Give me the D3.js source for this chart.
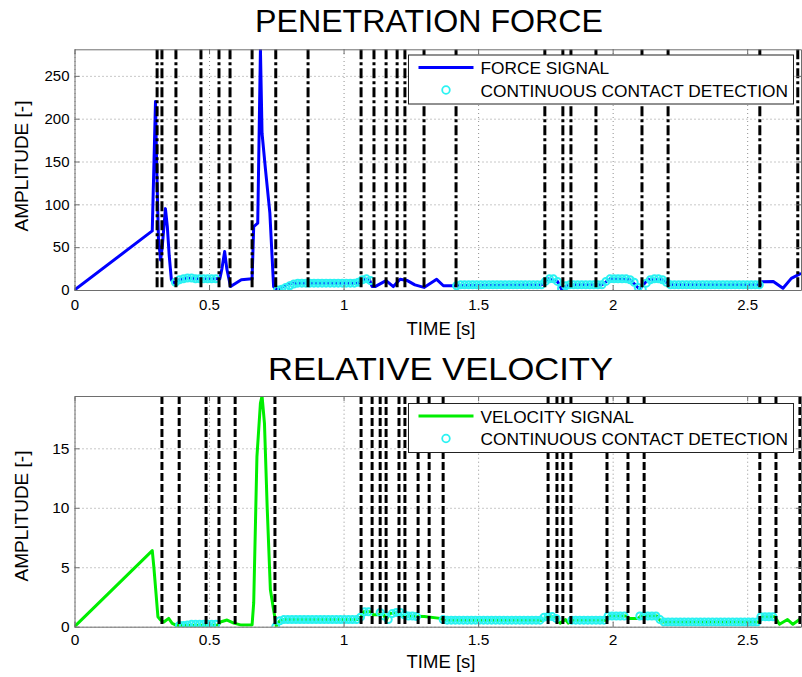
<!DOCTYPE html>
<html>
<head>
<meta charset="utf-8">
<script src="https://cdn.jsdelivr.net/npm/d3@7"></script>
<style>
  body { margin: 0; background: #fff; }
  svg { display: block; font-family: "Liberation Sans", Arial, sans-serif; }
</style>
</head>
<body>
<div id="chart"></div>
<script>
// ---- data ----
const xTicks = [0, 0.5, 1, 1.5, 2, 2.5];
const forceTicks = [0, 50, 100, 150, 200, 250];
const velocityTicks = [0, 5, 10, 15];

// force signal [time, amplitude]
const forceSignal = [
  [0, 0], [0.289, 69], [0.301, 220], [0.305, 150], [0.312, 60], [0.32, 35], [0.326, 50],
  [0.338, 95], [0.345, 74], [0.352, 40], [0.36, 12], [0.368, 8], [0.375, 9], [0.39, 12],
  [0.42, 14], [0.45, 13], [0.54, 13], [0.548, 25], [0.558, 45], [0.566, 25], [0.58, 4],
  [0.62, 12], [0.66, 13], [0.666, 74], [0.681, 78], [0.691, 281], [0.697, 183], [0.71, 140],
  [0.726, 90], [0.74, 4], [0.753, 0], [0.77, 3], [0.8, 8], [1.055, 8], [1.07, 12],
  [1.095, 13], [1.106, 4], [1.117, 4], [1.158, 11], [1.185, 4], [1.21, 12.5], [1.237, 11],
  [1.265, 6], [1.299, 3], [1.346, 12.5], [1.371, 5], [1.42, 5], [1.735, 6], [1.76, 13],
  [1.795, 10], [1.81, 1], [1.84, 6], [1.96, 6], [1.99, 13], [2.065, 12], [2.1, 1],
  [2.13, 12], [2.185, 12], [2.215, 6], [2.55, 6], [2.556, 9.7], [2.597, 10], [2.633, 2],
  [2.664, 13.6], [2.7, 19.5]
];

// velocity signal [time, amplitude]
const velocitySignal = [
  [0, 0], [0.289, 6.4], [0.295, 5], [0.31, 0.84], [0.32, 0.56], [0.332, 0.4], [0.35, 0.7],
  [0.363, 0.28], [0.381, 0.1], [0.535, 0.15], [0.542, 0.4], [0.567, 0.56], [0.592, 0.3],
  [0.617, 0.15], [0.66, 0.15], [0.666, 2], [0.678, 14.3], [0.691, 18.8], [0.697, 19.4],
  [0.706, 17.1], [0.716, 10.1], [0.728, 3.1], [0.74, 1.4], [0.75, 0.05], [0.763, 0.5],
  [0.78, 0.6], [1.06, 0.6], [1.075, 1.25], [1.1, 1.25], [1.11, 1.0], [1.15, 1.0],
  [1.158, 0.5], [1.17, 1.1], [1.2, 1.2], [1.22, 0.9], [1.3, 0.85], [1.36, 0.7],
  [1.375, 0.55], [1.74, 0.55], [1.76, 0.85], [1.79, 0.8], [1.805, 0.3], [1.825, 0.6],
  [1.835, 0.3], [1.848, 0.55], [1.975, 0.55], [1.985, 0.9], [2.05, 0.9], [2.06, 0.7],
  [2.095, 0.7], [2.105, 0.9], [2.165, 0.9], [2.18, 0.4], [2.545, 0.4], [2.555, 0.84],
  [2.603, 0.84], [2.62, 0.2], [2.65, 0.6], [2.67, 0.2], [2.7, 0.7]
];

// continuous contact detection, sampled every contactStep seconds from each start time
const contactStep = 0.015;
const forceContactStarts = [0.375, 0.755, 1.42];
const forceContactValues = [
  [9, 12, 13, 14, 14, 13, 13, 13, 13, 13, 13],
  [0, 1, 3, 5, 7, 8, 8, 8, 8, 8, 8, 8, 8, 8, 8, 8, 8, 8, 8, 8, 9, 12, 13, 11],
  [5, 6, 6, 6, 6, 6, 6, 6, 6, 6, 6, 6, 6, 6, 6, 6, 6, 6, 6, 6, 6, 6,
   10, 13, 13, 10, 2, 5,
   6, 6, 6, 6, 6, 6, 6, 6, 6,
   10, 13, 13, 13, 13, 13, 12, 9, 3, 1,
   8, 12, 13, 13, 12, 9,
   6, 6, 6, 6, 6, 6, 6, 6, 6, 6, 6, 6, 6, 6, 6, 6, 6, 6, 6, 6, 6, 6, 6]
];
const velocityContactStarts = [0.39, 0.748, 1.136, 1.37, 1.848, 2.101];
const velocityContactValues = [
  [0.1, 0.1, 0.15, 0.2, 0.2, 0.2, 0.2, 0.2, 0.2, 0.2],
  [0, 0.5, 0.6, 0.6, 0.6, 0.6, 0.6, 0.6, 0.6, 0.6, 0.6, 0.6, 0.6, 0.6, 0.6, 0.6, 0.6, 0.6,
   0.6, 0.6, 0.6, 0.8, 1.25, 1.25],
  [1.2, 0.9, 0.6, 1.1, 1.2, 1.2, 1.0, 0.9, 0.9, 0.85],
  [0.6, 0.55, 0.55, 0.55, 0.55, 0.55, 0.55, 0.55, 0.55, 0.55, 0.55, 0.55, 0.55, 0.55, 0.55,
   0.55, 0.55, 0.55, 0.55, 0.55, 0.55, 0.55, 0.55, 0.55, 0.55, 0.8, 0.85, 0.85, 0.7],
  [0.55, 0.55, 0.55, 0.55, 0.55, 0.55, 0.55, 0.55, 0.55, 0.9, 0.9, 0.9, 0.9, 0.9],
  [0.9, 0.9, 0.9, 0.9, 0.9, 0.6, 0.4, 0.4, 0.4, 0.4, 0.4, 0.4, 0.4, 0.4, 0.4, 0.4, 0.4, 0.4,
   0.4, 0.4, 0.4, 0.4, 0.4, 0.4, 0.4, 0.4, 0.4, 0.4, 0.4, 0.4, 0.84, 0.84, 0.84, 0.84]
];

// event times (vertical lines)
const forceEvents = [0.307, 0.325, 0.377, 0.470, 0.537, 0.578, 0.660, 0.748, 0.868, 1.065,
  1.113, 1.158, 1.199, 1.228, 1.299, 1.418, 1.748, 1.815, 1.845, 1.938, 2.109, 2.206,
  2.547, 2.688];
const velocityEvents = [0.325, 0.389, 0.489, 0.537, 0.597, 0.745, 1.065, 1.106, 1.136,
  1.158, 1.206, 1.228, 1.277, 1.318, 1.370, 1.760, 1.793, 1.815, 1.845, 1.979, 2.057,
  2.117, 2.547, 2.607, 2.696];

const W = 802, H = 677;
const left = 74.5, right = 801;
const cyan = '#2af2f2';

const svg = d3.select('#chart').append('svg')
  .attr('width', W)
  .attr('height', H);

function contactPoints(starts, values) {
  const pts = [];
  starts.forEach((s, i) => {
    values[i].forEach((v, j) => pts.push([s + j * contactStep, v]));
  });
  return pts;
}

function drawPanel(cfg) {
  const x = d3.scaleLinear().domain([0, 2.7]).range([left, right]);
  const y = d3.scaleLinear().domain([0, cfg.yMax]).range([cfg.bottom, cfg.top]);
  const g = svg.append('g');
  const clipId = 'clip-' + cfg.id;

  g.append('clipPath').attr('id', clipId)
    .append('rect')
    .attr('x', left).attr('y', cfg.top)
    .attr('width', right - left).attr('height', cfg.bottom - cfg.top);

  // grid
  g.append('g')
    .attr('transform', `translate(0,${cfg.bottom})`)
    .call(d3.axisBottom(x).tickValues(xTicks).tickSize(-(cfg.bottom - cfg.top)).tickFormat(''))
    .call(a => a.select('.domain').remove())
    .selectAll('line').attr('stroke', '#909090').attr('stroke-dasharray', '1,3');
  g.append('g')
    .attr('transform', `translate(${left},0)`)
    .call(d3.axisLeft(y).tickValues(cfg.yTicks).tickSize(-(right - left)).tickFormat(''))
    .call(a => a.select('.domain').remove())
    .selectAll('line').attr('stroke', '#909090').attr('stroke-dasharray', '1,3');

  const plot = g.append('g').attr('clip-path', `url(#${clipId})`);

  const line = d3.line().x(d => x(d[0])).y(d => y(d[1]));
  plot.append('path')
    .datum(cfg.signal)
    .attr('d', line)
    .attr('fill', 'none')
    .attr('stroke', cfg.color)
    .attr('stroke-width', 3)
    .attr('stroke-linejoin', 'round');

  plot.selectAll('.contact')
    .data(contactPoints(cfg.contactStarts, cfg.contactValues))
    .join('circle')
    .attr('class', 'contact')
    .attr('cx', d => x(d[0]))
    .attr('cy', d => y(d[1]))
    .attr('r', 3.5)
    .attr('fill', 'none')
    .attr('stroke', cyan)
    .attr('stroke-width', 2);

  plot.selectAll('.event')
    .data(cfg.events)
    .join('line')
    .attr('class', 'event')
    .attr('x1', d => x(d)).attr('x2', d => x(d))
    .attr('y1', cfg.top).attr('y2', cfg.bottom)
    .attr('stroke', '#000')
    .attr('stroke-width', 3)
    .attr('stroke-dasharray', cfg.dash);

  // axes with inward ticks on all four sides
  const tickColor = '#6e6e6e';
  const xAxis = g.append('g')
    .attr('transform', `translate(0,${cfg.bottom})`)
    .call(d3.axisBottom(x).tickValues(xTicks).tickSizeInner(-5).tickSizeOuter(0).tickPadding(cfg.xPad)
      .tickFormat(d3.format('')));
  const xAxisTop = g.append('g')
    .attr('transform', `translate(0,${cfg.top})`)
    .call(d3.axisTop(x).tickValues(xTicks).tickSizeInner(-5).tickSizeOuter(0).tickFormat(''));
  const yAxis = g.append('g')
    .attr('transform', `translate(${left},0)`)
    .call(d3.axisLeft(y).tickValues(cfg.yTicks).tickSizeInner(-5).tickSizeOuter(0).tickPadding(5));
  const yAxisRight = g.append('g')
    .attr('transform', `translate(${right},0)`)
    .call(d3.axisRight(y).tickValues(cfg.yTicks).tickSizeInner(-5).tickSizeOuter(0).tickFormat(''));
  [xAxis, xAxisTop, yAxis, yAxisRight].forEach(a => {
    a.select('.domain').attr('stroke', tickColor);
    a.selectAll('line').attr('stroke', tickColor);
    a.selectAll('text').attr('fill', '#000').style('font-size', cfg.tickFont + 'px')
      .style('font-family', '"Liberation Sans", Arial, sans-serif');
  });

  // title and labels
  g.append('text')
    .attr('x', cfg.titleX)
    .attr('y', cfg.titleY)
    .attr('text-anchor', 'middle')
    .attr('textLength', cfg.titleWidth)
    .attr('lengthAdjust', 'spacingAndGlyphs')
    .style('font-size', '32px')
    .text(cfg.title);
  g.append('text')
    .attr('x', 441)
    .attr('y', cfg.xLabelY)
    .attr('text-anchor', 'middle')
    .style('font-size', '18.5px')
    .text('TIME [s]');
  g.append('text')
    .attr('transform', `translate(28,${cfg.yLabelY}) rotate(-90)`)
    .attr('text-anchor', 'middle')
    .style('font-size', '19px')
    .text('AMPLITUDE [-]');

  // legend
  const lg = g.append('g');
  const lx = 408.5, ly = cfg.legendTop;
  lg.append('rect')
    .attr('x', lx).attr('y', ly)
    .attr('width', 385).attr('height', 49)
    .attr('fill', '#fff')
    .attr('stroke', '#222')
    .attr('stroke-width', 1);
  lg.append('line')
    .attr('x1', lx + 10).attr('x2', lx + 65)
    .attr('y1', ly + 12.5).attr('y2', ly + 12.5)
    .attr('stroke', cfg.color).attr('stroke-width', 3);
  lg.append('circle')
    .attr('cx', lx + 37.5).attr('cy', ly + 35)
    .attr('r', 3.8)
    .attr('fill', 'none').attr('stroke', cyan).attr('stroke-width', 1.8);
  lg.append('text')
    .attr('x', lx + 72).attr('y', ly + 19.3)
    .style('font-size', '17.3px')
    .text(cfg.signalName);
  lg.append('text')
    .attr('x', lx + 72).attr('y', ly + 41.8)
    .style('font-size', '17.3px')
    .text('CONTINUOUS CONTACT DETECTION');
}

drawPanel({
  id: 'force', title: 'PENETRATION FORCE', signalName: 'FORCE SIGNAL',
  top: 49.3, bottom: 290, yMax: 281, yTicks: forceTicks,
  signal: forceSignal, color: '#0000ff',
  contactStarts: forceContactStarts, contactValues: forceContactValues,
  events: forceEvents, dash: '10,3,3,3',
  titleX: 429, titleWidth: 348, titleY: 32,
  xLabelY: 335, yLabelY: 166, legendTop: 55, xPad: 9, tickFont: 15
});

drawPanel({
  id: 'velocity', title: 'RELATIVE VELOCITY', signalName: 'VELOCITY SIGNAL',
  top: 396, bottom: 626.7, yMax: 19.4, yTicks: velocityTicks,
  signal: velocitySignal, color: '#00ee00',
  contactStarts: velocityContactStarts, contactValues: velocityContactValues,
  events: velocityEvents, dash: '8,3',
  titleX: 440.5, titleWidth: 345, titleY: 380,
  xLabelY: 668, yLabelY: 516, legendTop: 403.5, xPad: 7, tickFont: 15.5
});
</script>
</body>
</html>
